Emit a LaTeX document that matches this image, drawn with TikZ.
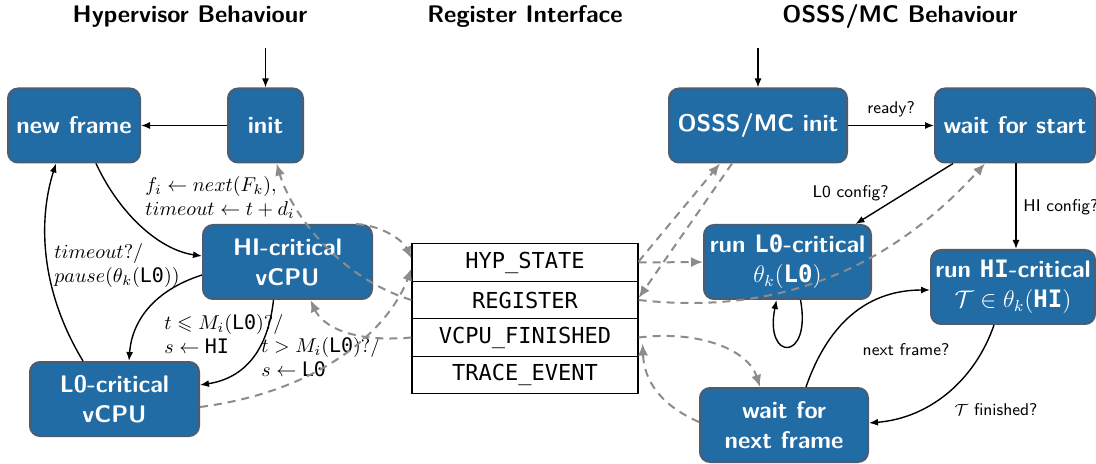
\documentclass[tikz,border=0pt]{standalone}
\usepackage{amssymb}
\usepackage{fontspec}
\setmonofont{DejaVu Sans Mono}
\usetikzlibrary{arrows.meta}
\definecolor{boxblue}{RGB}{34,108,165}
\definecolor{boxedge}{RGB}{78,92,112}
\definecolor{dgray}{RGB}{140,140,140}
\tikzset{
  state/.style={draw=boxedge, line width=1pt, fill=boxblue, rounded corners=5pt,
    text=white, font=\sffamily\bfseries\fontsize{12}{15}\selectfont, align=center,
    minimum height=37pt, inner sep=2pt},
  regrow/.style={draw=black, line width=0.6pt, fill=white, minimum width=113pt,
    minimum height=18.75pt, font=\ttfamily\fontsize{11}{13}\selectfont, inner sep=0pt},
  title/.style={font=\sffamily\bfseries\fontsize{12}{14}\selectfont},
  trans/.style={-{Latex[length=4.5pt,width=3.5pt]}, line width=0.7pt, black},
  link/.style={-{Latex[length=6pt,width=5pt]}, dgray, line width=1pt, dash pattern=on 4pt off 3pt},
  lbl/.style={font=\sffamily\fontsize{8.5}{10}\selectfont, inner sep=1pt},
  mlbl/.style={font=\fontsize{10}{12}\selectfont, align=left, inner sep=1pt},
}
\begin{document}
\begin{tikzpicture}[x=0.5pt,y=-0.5pt]
\path[use as bounding box] (0,0) rectangle (1096,464);
% titles
\node[title] (t1) at (190,17) {Hypervisor Behaviour};
\node[title] (t2) at (525,17) {Register Interface};
\node[title] (t3) at (900,17) {OSSS/MC Behaviour};
% hypervisor states
\node[state, minimum width=66pt] (newframe) at (74,125.5) {new frame};
\node[state, minimum width=37.5pt] (init) at (265.5,125.5) {init};
\node[state, minimum width=84.5pt] (hicpu) at (287.5,262) {HI-critical\\vCPU};
\node[state, minimum width=84.5pt] (locpu) at (114.5,399) {L0-critical\\vCPU};
% register table
\node[regrow] (hyp) at (525,262.5) {HYP\_STATE};
\node[regrow] (reg) at (525,300) {REGISTER};
\node[regrow] (vfin) at (525,337.5) {VCPU\_FINISHED};
\node[regrow] (trace) at (525,375) {TRACE\_EVENT};
% OSSS/MC states
\node[state, minimum width=89pt] (osss) at (758,125.5) {OSSS/MC init};
\node[state, minimum width=80pt] (wfs) at (1015,125.5) {wait for start};
\node[state, minimum width=83.5pt] (runlo) at (787.5,262) {run \texttt{L0}-critical\\$\theta_k(\texttt{\textbf{L0}})$};
\node[state, minimum width=82pt] (runhi) at (1013,287) {run \texttt{HI}-critical\\$\mathcal{T}\in\theta_k(\texttt{\textbf{HI}})$};
\node[state, minimum width=84pt] (wnext) at (784,425) {wait for\\next frame};
% entry points
\coordinate (initin) at (265.5,48);
\coordinate (osssin) at (758,48);
\draw[trans] (initin) -- (init.north);
\draw[trans] (osssin) -- (osss.north);
% hypervisor transitions
\draw[trans] (init) -- (newframe);
\draw[trans] ([xshift=-22.5pt]newframe.south east) .. controls (120,215) and (160,250) .. ([yshift=3pt]hicpu.west);
\node[mlbl, anchor=west] (lnf) at (143,198) {$f_i \leftarrow next(F_k),$\\$timeout \leftarrow t + d_i$};
\draw[trans] ([xshift=27pt]locpu.north west) .. controls (40,290) and (38,220) .. ([xshift=24.5pt]newframe.south west);
\node[mlbl, anchor=west] (lto) at (52,266) {$timeout?/$\\$pause(\theta_k(\texttt{L0}))$};
\draw[trans] ([yshift=-6.5pt]hicpu.west) .. controls (155,290) and (132,320) .. ([xshift=50pt]locpu.north west);
\node[mlbl, anchor=west] (lle) at (162,334) {$t \leqslant M_i(\texttt{L0})?/$\\$s \leftarrow \texttt{HI}$};
\draw[trans] ([xshift=-7pt]hicpu.south) .. controls (268,350) and (245,378) .. ([yshift=7pt]locpu.east);
\node[mlbl, anchor=west] (lgt) at (259,357) {$t > M_i(\texttt{L0})?/$\\$s \leftarrow \texttt{L0}$};
% hypervisor <-> registers
\draw[link] (reg.west) .. controls (340,278) and (292,215) .. ([xshift=5.5pt]init.south);
\draw[link] ([xshift=-8.5pt]hicpu.north east) .. controls (385,226) and (404,242) .. ([yshift=2pt]hyp.west);
\draw[link] ([yshift=-4pt]locpu.east) .. controls (330,390) and (392,322) .. ([yshift=-3pt]hyp.west);
\draw[link] ([yshift=0pt]vfin.west) .. controls (350,343) and (322,325) .. ([xshift=11.5pt]hicpu.south);
% OSSS/MC <-> registers
\draw[link] (hyp.east) -- (runlo.west);
\draw[link] ([yshift=0.5pt]hyp.east) -- ([xshift=-19pt]osss.south);
\draw[link] ([xshift=-13pt]osss.south) -- ([yshift=1pt]reg.east);
\draw[link] (reg.east) .. controls (745,312) and (868,292) .. ([xshift=-15pt]wfs.south);
\draw[link] (vfin.east) .. controls (700,330) and (748,350) .. ([xshift=-12pt]wnext.north);
\draw[link] ([yshift=1.5pt]wnext.west) .. controls (660,405) and (644,380) .. ([xshift=2pt,yshift=-3pt]vfin.east);
% OSSS/MC transitions
\draw[trans] (osss) -- node[lbl, above=3pt] (lready) {ready?} (wfs);
\draw[trans] ([xshift=-31pt]wfs.south) -- ([xshift=34pt]runlo.north);
\node[lbl, anchor=east] (llo) at (891,193) {L0 config?};
\draw[trans] ([xshift=0.5pt]wfs.south) -- ([xshift=0.5pt]wfs.south |- runhi.north);
\node[lbl, anchor=west] (lhi) at (1021,207) {HI config?};
\draw[trans] ([xshift=6.5pt]runlo.south) .. controls (812,362) and (764,362) .. ([xshift=-5.5pt]runlo.south);
\draw[trans] ([xshift=11pt]wnext.north) .. controls (830,318) and (872,290) .. ([yshift=-1.5pt]runhi.west);
\node[lbl] (lnext) at (906,350) {next frame?};
\draw[trans] ([xshift=-9.5pt]runhi.south) .. controls (975,380) and (930,418) .. ([yshift=1pt]wnext.east);
\node[lbl] (lfin) at (996,410) {$\mathcal{T}$ finished?};
\end{tikzpicture}
\end{document}
